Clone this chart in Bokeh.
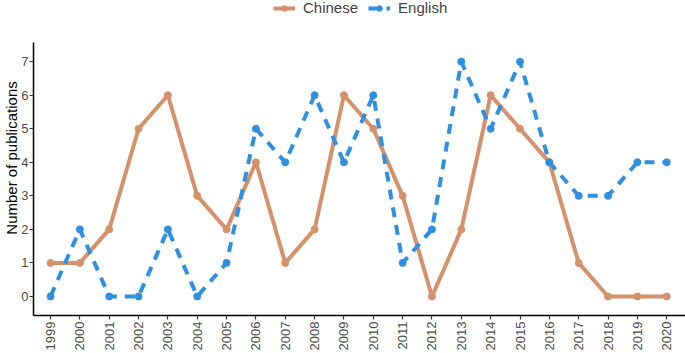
import math
from bokeh.plotting import figure
from bokeh.models import Range1d, FixedTicker, Legend, LegendItem
from bokeh.embed import file_html
from bokeh.resources import INLINE

years = list(range(1999, 2021))
chinese = [1, 1, 2, 5, 6, 3, 2, 4, 1, 2, 6, 5, 3, 0, 2, 6, 5, 4, 1, 0, 0, 0]
english = [0, 2, 0, 0, 2, 0, 1, 5, 4, 6, 4, 6, 1, 2, 7, 5, 7, 4, 3, 3, 4, 4]
y_ticks = [0, 1, 2, 3, 4, 5, 6, 7]

c_col = "#D4916A"
e_col = "#2F8FE0"
FONT = "Liberation Sans"
Y_LO, Y_AX_TOP, Y_HI = -0.568, 7.568, 8.825

p = figure(width=685, height=353, output_backend="svg", toolbar_location=None,
           x_range=Range1d(1998.42, 2020.64), y_range=Range1d(Y_LO, Y_HI),
           min_border_left=0, min_border_right=0, min_border_top=0, min_border_bottom=0)
p.outline_line_color = None
p.xgrid.visible = False
p.ygrid.visible = False

cl = p.line(years, chinese, line_color=c_col, line_width=4, line_join="round")
cs = p.scatter(years, chinese, size=7, fill_color=c_col, line_color=c_col)
el = p.line(years, english, line_color=e_col, line_width=4, line_dash="10 8")
es = p.scatter(years, english, size=7, fill_color=e_col, line_color=e_col)

for ax in (p.xaxis[0], p.yaxis[0]):
    ax.axis_line_color = "black"
    ax.axis_line_width = 1.5
    ax.major_tick_line_color = "#333333"
    ax.major_tick_line_width = 1.2
    ax.major_tick_out = 4
    ax.major_tick_in = 0
    ax.minor_tick_line_color = None
    ax.major_label_text_font = FONT
    ax.major_label_text_font_size = "13px"
    ax.major_label_text_color = "#4D4D4D"
    ax.major_label_standoff = 2

p.xaxis.ticker = FixedTicker(ticks=years)
p.xaxis.major_label_orientation = math.pi / 2

p.yaxis.ticker = FixedTicker(ticks=y_ticks)
p.yaxis.bounds = (Y_LO, Y_AX_TOP)
p.yaxis.major_label_standoff = 1
p.yaxis.axis_label = "Number of publications"
p.yaxis.axis_label_text_font = FONT
p.yaxis.axis_label_text_font_size = "15px"
p.yaxis.axis_label_text_font_style = "normal"
p.yaxis.axis_label_text_color = "black"
p.yaxis.axis_label_standoff = -2

legend = Legend(items=[LegendItem(label="Chinese", renderers=[cl, cs]),
                       LegendItem(label="English", renderers=[el, es])],
                orientation="horizontal", location=(240, 299),
                label_text_font=FONT, label_text_font_size="15px",
                glyph_width=22, glyph_height=14, spacing=10, padding=0,
                margin=0, border_line_color=None, background_fill_alpha=0,
                label_standoff=8, label_height=15)
p.add_layout(legend, "center")

open("out.html", "w").write(file_html(p, INLINE))
